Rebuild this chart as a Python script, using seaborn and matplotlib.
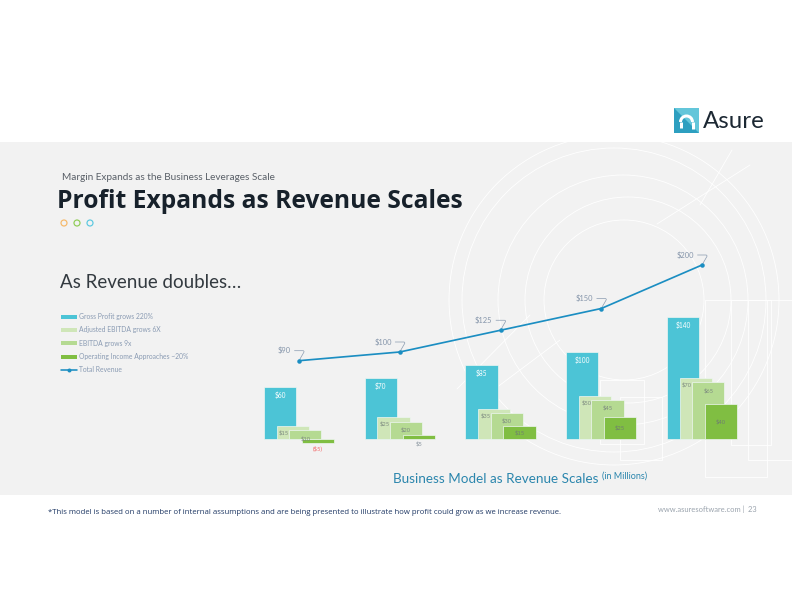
import matplotlib
matplotlib.use('Agg')
import matplotlib.pyplot as plt
import seaborn as sns
import numpy as np
from matplotlib.patches import Rectangle, Circle, Arc, Polygon
from matplotlib.lines import Line2D

# chart values (in millions)
stages = [0, 1, 2, 3, 4]
gross_profit = [60, 70, 85, 100, 140]
adj_ebitda = [15, 25, 35, 50, 70]
ebitda = [10, 20, 30, 45, 65]
op_income = [-5, 5, 15, 25, 40]
revenue = [90, 100, 125, 150, 200]
legend_labels = ['Gross Profit grows 220%', 'Adjusted EBITDA grows 6X', 'EBITDA grows 9x',
                 'Operating Income Approaches ~20%', 'Total Revenue']

c_gp = '#4cc4d6'
c_ae = '#cfe6b8'
c_eb = '#b5da92'
c_oi = '#80be42'
c_line = '#1b8ec2'
c_lab = '#8595aa'

sns.set_theme(style='white')
plt.rcParams['font.family'] = ['Lato', 'DejaVu Sans']

W, H = 792, 612
fig = plt.figure(figsize=(11, 8.5), dpi=72)
fig.patch.set_facecolor('white')

# background / slide layer in pixel coords
bg = fig.add_axes([0, 0, 1, 1])
bg.set_xlim(0, W)
bg.set_ylim(H, 0)
bg.axis('off')
band = Rectangle((0, 142), W, 353, facecolor='#f2f2f2', edgecolor='none', zorder=0)
bg.add_patch(band)

# faint decoration arcs
deco = []
for (cx, cy, r) in [(614, 300, 165), (614, 300, 152), (623, 300, 125), (628, 300, 103), (624, 300, 80)]:
    deco.append(Circle((cx, cy), r, fill=False, ec='white', lw=0.8))
for (x0, y0, w, h) in [(600, 380, 44, 64), (620, 397, 42, 63), (705, 300, 62, 177), (731, 300, 40, 145), (748, 300, 60, 160)]:
    deco.append(Rectangle((x0, y0), w, h, fill=False, ec='white', lw=0.8))
for p in deco:
    bg.add_patch(p)
    p.set_clip_path(band)
for (xa, ya, xb, yb) in [(657, 224, 750, 165), (700, 205, 732, 150), (457, 389, 530, 315), (480, 400, 560, 340)]:
    ln, = bg.plot([xa, xb], [ya, yb], color='white', lw=0.8)
    ln.set_clip_path(band)

# logo
bg.add_patch(Rectangle((674, 108), 25, 25, facecolor='#2d9fc0', edgecolor='none'))
bg.add_patch(Polygon([(674, 108), (699, 108), (699, 133)], closed=True, facecolor='#63c6da', edgecolor='none'))
bg.add_patch(Arc((686.5, 122), 12, 12, theta1=180, theta2=360, color='white', lw=3))
bg.plot([680.5, 680.5], [122, 128], color='white', lw=3, solid_capstyle='butt')
bg.plot([692.5, 692.5], [122, 129], color='white', lw=3, solid_capstyle='butt')
bg.text(703, 121, 'Asure', fontsize=24, color='#1c2833', va='center', ha='left')

# headings
bg.text(62, 177, 'Margin Expands as the Business Leverages Scale', fontsize=10, color='#5a6068', va='center')
bg.text(57, 202, 'Profit Expands as Revenue Scales', fontsize=24.6, color='#17212b', va='center',
        fontweight='bold', family=['Open Sans', 'DejaVu Sans'])
for xc, cc in zip([64, 77, 90], ['#f6b868', '#8fcc55', '#5bc8e0']):
    bg.add_patch(Circle((xc, 223), 3, fill=False, ec=cc, lw=1.2))
bg.text(60, 283, 'As Revenue doubles\u2026', fontsize=18.8, color='#333a40', va='center')
bg.text(393, 479, 'Business Model as Revenue Scales', fontsize=13.5, color='#2b86ad', va='center')
bg.text(602, 476, '(in Millions)', fontsize=9, color='#2b86ad', va='center')
bg.text(48, 513, '*This model is based on a number of internal assumptions and are being presented to illustrate how profit could grow as we increase revenue.',
        fontsize=7.7, color='#1f3864', va='center', family=['Open Sans', 'DejaVu Sans'])
bg.text(757, 509, 'www.asuresoftware.com |  23', fontsize=7.5, color='#9aa3ad', va='center', ha='right')

# chart axes: x px = 299 + 100.75*x ; y px = 439 - 0.87*y
L, R, T, B = 240, 770, 240, 470
ax = fig.add_axes([L / W, 1 - B / H, (R - L) / W, (B - T) / H])
ax.patch.set_alpha(0)

x = np.array(stages, dtype=float)
offsets = [-0.1875, -0.0625, 0.0625, 0.1875]
series = [gross_profit, adj_ebitda, ebitda, op_income]
colors = [c_gp, c_ae, c_eb, c_oi]
for vals, col, off in zip(series, colors, offsets):
    sns.barplot(x=x + off, y=vals, native_scale=True, orient='x', width=0.32, color=col,
                saturation=1, errorbar=None, edgecolor='#eef6f2', linewidth=0.7, ax=ax)

sns.lineplot(x=x, y=revenue, color=c_line, lw=1.7, marker='o', markersize=4.5,
             markeredgewidth=0, ax=ax, zorder=6)

ax.set_xlim((L - 299) / 100.75, (R - 299) / 100.75)
ax.set_ylim((439 - B) / 0.87, (439 - T) / 0.87)
ax.axis('off')


def money(v):
    return '${}'.format(v) if v >= 0 else '(${})'.format(-v)


for i, xi in enumerate(x):
    ax.annotate(money(gross_profit[i]), (xi + offsets[0], gross_profit[i]), xytext=(0, -8),
                textcoords='offset points', ha='center', va='center', color='white', fontsize=6.5)
    ax.annotate(money(adj_ebitda[i]), (xi + offsets[1] - 0.16, adj_ebitda[i]), xytext=(2.5, -7),
                textcoords='offset points', ha='left', va='center', color='#7d8a80', fontsize=5.8)
    ax.annotate(money(ebitda[i]), (xi + offsets[2], ebitda[i]), xytext=(0, -8),
                textcoords='offset points', ha='center', va='center', color='#7d8a80', fontsize=5.8)
    v = op_income[i]
    if v >= 10:
        ax.annotate(money(v), (xi + offsets[3], v / 2), ha='center', va='center', color='#6f7f70', fontsize=5.8)
    elif v > 0:
        ax.annotate(money(v), (xi + offsets[3], 0), xytext=(0, -5), textcoords='offset points',
                    ha='center', va='center', color='#8a96a0', fontsize=5.8)
    else:
        ax.annotate(money(v), (xi + offsets[3], v), xytext=(0, -4.5), textcoords='offset points',
                    ha='center', va='center', color='#f26b6b', fontsize=5.8)
    ax.annotate(money(revenue[i]), (xi, revenue[i]), xytext=(-8, 10), textcoords='offset points',
                ha='right', va='center', color=c_lab, fontsize=7.5,
                arrowprops=dict(arrowstyle='-', color='#8a9bb0', lw=0.7, shrinkA=1, shrinkB=1.5,
                                connectionstyle='angle,angleA=0,angleB=60,rad=2'))

handles = [Line2D([], [], color=c, lw=4, solid_capstyle='butt') for c in colors]
handles.append(Line2D([], [], color=c_line, lw=1.6, marker='o', markersize=4, markeredgewidth=0))
fig.legend(handles, legend_labels, loc='upper left', bbox_to_anchor=(61 / W, 1 - 313 / H),
           frameon=False, fontsize=6.7, labelcolor='#8a9bb3', handlelength=2.4, handletextpad=0.25,
           labelspacing=0.95, borderaxespad=0, borderpad=0)

fig.savefig('out.png', dpi=72, facecolor='white')
